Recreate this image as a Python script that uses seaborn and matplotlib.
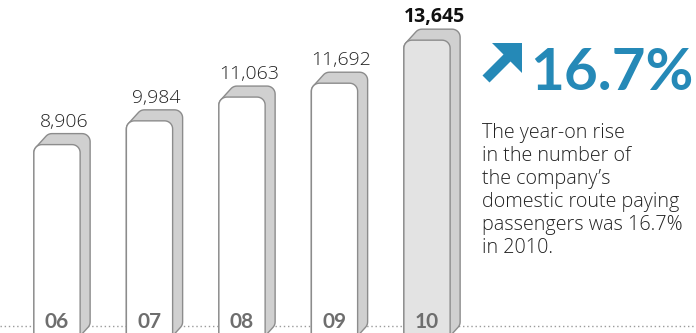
import numpy as np
import pandas as pd
import matplotlib
matplotlib.use("Agg")
import matplotlib.pyplot as plt
import seaborn as sns
from matplotlib.patches import Polygon

# Domestic route paying passengers (thousands), fiscal years 2006-2010
years = ["06", "07", "08", "09", "10"]
passengers = [8906, 9984, 11063, 11692, 13645]
value_labels = ["8,906", "9,984", "11,063", "11,692", "13,645"]
highlight_year = "10"
growth_label = "16.7%"
growth_note = [
    "The year-on rise",
    "in the number of",
    "the company\u2019s",
    "domestic route paying",
    "passengers was 16.7%",
    "in 2010.",
]

W, H = 696, 333
BLUE = "#2589b7"
EDGE = "#8c8c8c"
BODY_FONT = ["Open Sans", "DejaVu Sans"]

sns.set_theme(style="white")
plt.rcParams["font.family"] = ["Lato", "DejaVu Sans"]

fig = plt.figure(figsize=(W / 100, H / 100), dpi=100)
ax = fig.add_axes([0, 0, 1, 1])

df = pd.DataFrame({"year": years, "passengers": passengers})
sns.barplot(data=df, x="year", y="passengers", order=years, width=0.5,
            color="white", ax=ax)

# pixel scale of the plotting area
px_per_x = 92.5
px_per_y = 0.02204
x0_px = 57.0
y0_px = 340.9
ax.set_xlim(-x0_px / px_per_x, (W - x0_px) / px_per_x)
ax.set_ylim((y0_px - H) / px_per_y, y0_px / px_per_y)
ax.axis("off")


def rounded_rect(x, y, w, h, r_px=8, n=10):
    rx, ry = r_px / px_per_x, r_px / px_per_y
    pts = []
    for cx, cy, a0 in [(x + w - rx, y + h - ry, 0), (x + rx, y + h - ry, 90),
                       (x + rx, y + ry, 180), (x + w - rx, y + ry, 270)]:
        t = np.radians(np.linspace(a0, a0 + 90, n))
        pts.append(np.column_stack([cx + rx * np.cos(t), cy + ry * np.sin(t)]))
    return np.vstack(pts)


def convex_hull(points):
    pts = sorted(map(tuple, points))

    def cross(o, a, b):
        return ((a[0] - o[0]) * (b[1] - o[1]) * px_per_x * px_per_y
                - (a[1] - o[1]) * (b[0] - o[0]) * px_per_x * px_per_y)

    lower, upper = [], []
    for p in pts:
        while len(lower) >= 2 and cross(lower[-2], lower[-1], p) <= 0:
            lower.pop()
        lower.append(p)
    for p in reversed(pts):
        while len(upper) >= 2 and cross(upper[-2], upper[-1], p) <= 0:
            upper.pop()
        upper.append(p)
    return np.array(lower[:-1] + upper[:-1])


# dotted baseline running behind the bars
ax.axhline((y0_px - 326) / px_per_y, color="#9a9a9a", lw=1.0,
           linestyle=(0, (1, 2)), zorder=0)

dx, dy = 10 / px_per_x, 11 / px_per_y
for patch, year, label in zip(ax.patches, years, value_labels):
    x, w, h = patch.get_x(), patch.get_width(), patch.get_height()
    patch.set_visible(False)
    hi = year == highlight_year
    front = rounded_rect(x, 0, w, h)
    back = front + np.array([dx, dy])
    body = convex_hull(np.vstack([front, back]))
    ax.add_patch(Polygon(body, closed=True, facecolor="#d0d0d0",
                         edgecolor=EDGE, lw=1.0, zorder=2))
    ax.add_patch(Polygon(front, closed=True,
                         facecolor="#e3e3e3" if hi else "white",
                         edgecolor=EDGE, lw=1.0, zorder=3))
    cx = x + w / 2
    ax.text(cx, (y0_px - 328) / px_per_y, year, ha="center", va="baseline",
            fontsize=15, fontweight="bold", color="#6e6e6e", zorder=4)
    ax.annotate(label, xy=(cx, h), xytext=(7, 18), textcoords="offset pixels",
                ha="center", va="baseline", fontsize=14,
                family=BODY_FONT,
                fontweight="bold" if hi else "light",
                color="#111111" if hi else "#222222", zorder=4)

# growth arrow and headline figure
arrow_px = [(522, 43), (522, 73), (510.5, 61.5), (489.5, 82.5),
            (482.5, 75.5), (503.5, 54.5), (492, 43)]
fig.patches.append(Polygon([(px / W, 1 - py / H) for px, py in arrow_px],
                           closed=True, transform=fig.transFigure,
                           facecolor=BLUE, edgecolor="none"))
fig.text(530 / W, 1 - 90 / H, growth_label, fontsize=42, fontweight="bold",
         color=BLUE, ha="left", va="baseline")

for i, line in enumerate(growth_note):
    fig.text(482 / W, 1 - (137.7 + 23.1 * i) / H, line, fontsize=14.2,
             family=BODY_FONT, fontweight="light", color="#222222",
             ha="left", va="baseline")

fig.savefig("out.png", dpi=100)
